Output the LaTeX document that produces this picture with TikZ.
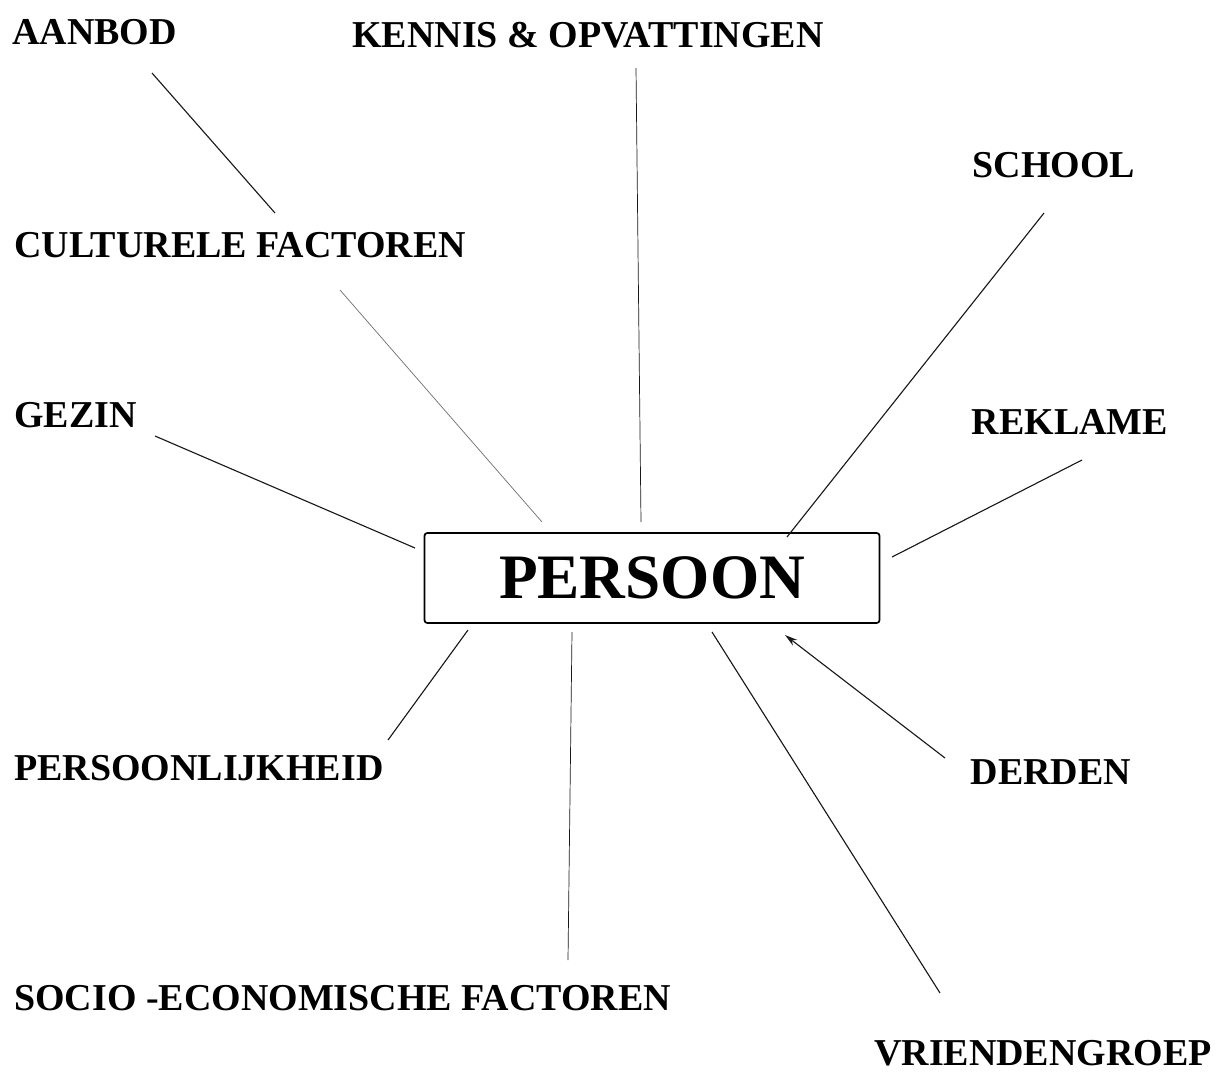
\documentclass[tikz,border=0pt]{standalone}
\usepackage{fontspec}
\setmainfont{Liberation Serif}
\usepackage{tikz}
\usetikzlibrary{arrows.meta}

\begin{document}
\begin{tikzpicture}[x = 0.025cm, y = -0.025cm]
            % \draw [help lines,step = 100] (0,0) grid (1216,1073);
            \useasboundingbox (0,0) rectangle (1216,1073);

            \definecolor{lineColor}{RGB}{25,25,25};
            \definecolor{fadeColor}{RGB}{110,110,110};

            \tikzset{
                lbl/.style = {inner sep = 0pt, font = \fontsize{27pt}{31pt}\selectfont\bfseries},
                spoke/.style = {draw = lineColor, line width = 0.8pt}
            }

            % centre box
            \node [draw, line width = 1.2pt, rounded corners = 2pt, minimum width = 455*0.025cm, minimum height = 90*0.025cm,
                   font = \fontsize{45pt}{50pt}\selectfont\bfseries] (persoon) at (652,578) {PERSOON};

            % labels
            \node [lbl, anchor = west] (aanbod) at (12,32) {AANBOD};
            \node [lbl] (kennis) at (588,35) {KENNIS \& OPVATTINGEN};
            \node [lbl] (school) at (1054,165) {SCHOOL};
            \node [lbl, anchor = west] (cultuur) at (14,245) {CULTURELE FACTOREN};
            \node [lbl, anchor = west] (gezin) at (14,415) {GEZIN};
            \node [lbl] (reklame) at (1070,422) {REKLAME};
            \node [lbl, anchor = west] (persoonlijk) at (14,768) {PERSOONLIJKHEID};
            \node [lbl] (derden) at (1051,772) {DERDEN};
            \node [lbl, anchor = west] (socio) at (14,998) {SOCIO -ECONOMISCHE FACTOREN};
            \node [lbl] (vrienden) at (1043,1053) {VRIENDENGROEP};

            % line ends
            \coordinate (aanbod-a) at (152,73);
            \coordinate (aanbod-b) at (275,213);
            \coordinate (cultuur-a) at (340,290);
            \coordinate (cultuur-b) at (542,522);
            \coordinate (kennis-a) at (636,68);
            \coordinate (kennis-b) at (641,522);
            \coordinate (school-a) at (1044,213);
            \coordinate (school-b) at (787,537);
            \coordinate (gezin-a) at (155,436);
            \coordinate (gezin-b) at (415,548);
            \coordinate (reklame-a) at (1082,460);
            \coordinate (reklame-b) at (892,557);
            \coordinate (persoonlijk-a) at (388,740);
            \coordinate (persoonlijk-b) at (468,630);
            \coordinate (socio-a) at (568,960);
            \coordinate (socio-b) at (572,632);
            \coordinate (vrienden-a) at (940,993);
            \coordinate (vrienden-b) at (712,632);
            \coordinate (derden-a) at (945,758);
            \coordinate (derden-b) at (785,635);

            \draw [spoke] (aanbod-a) -- (aanbod-b);
            \draw [spoke, draw = fadeColor, line width = 0.5pt] (cultuur-a) -- (cultuur-b);
            \draw [spoke, line width = 0.5pt] (kennis-a) -- (kennis-b);
            \draw [spoke] (school-a) -- (school-b);
            \draw [spoke] (gezin-a) -- (gezin-b);
            \draw [spoke] (reklame-a) -- (reklame-b);
            \draw [spoke] (persoonlijk-a) -- (persoonlijk-b);
            \draw [spoke, line width = 0.5pt] (socio-a) -- (socio-b);
            \draw [spoke] (vrienden-a) -- (vrienden-b);
            \draw [spoke, -{Stealth[length = 9pt, width = 5pt]}] (derden-a) -- (derden-b);

\end{tikzpicture}
\end{document}
